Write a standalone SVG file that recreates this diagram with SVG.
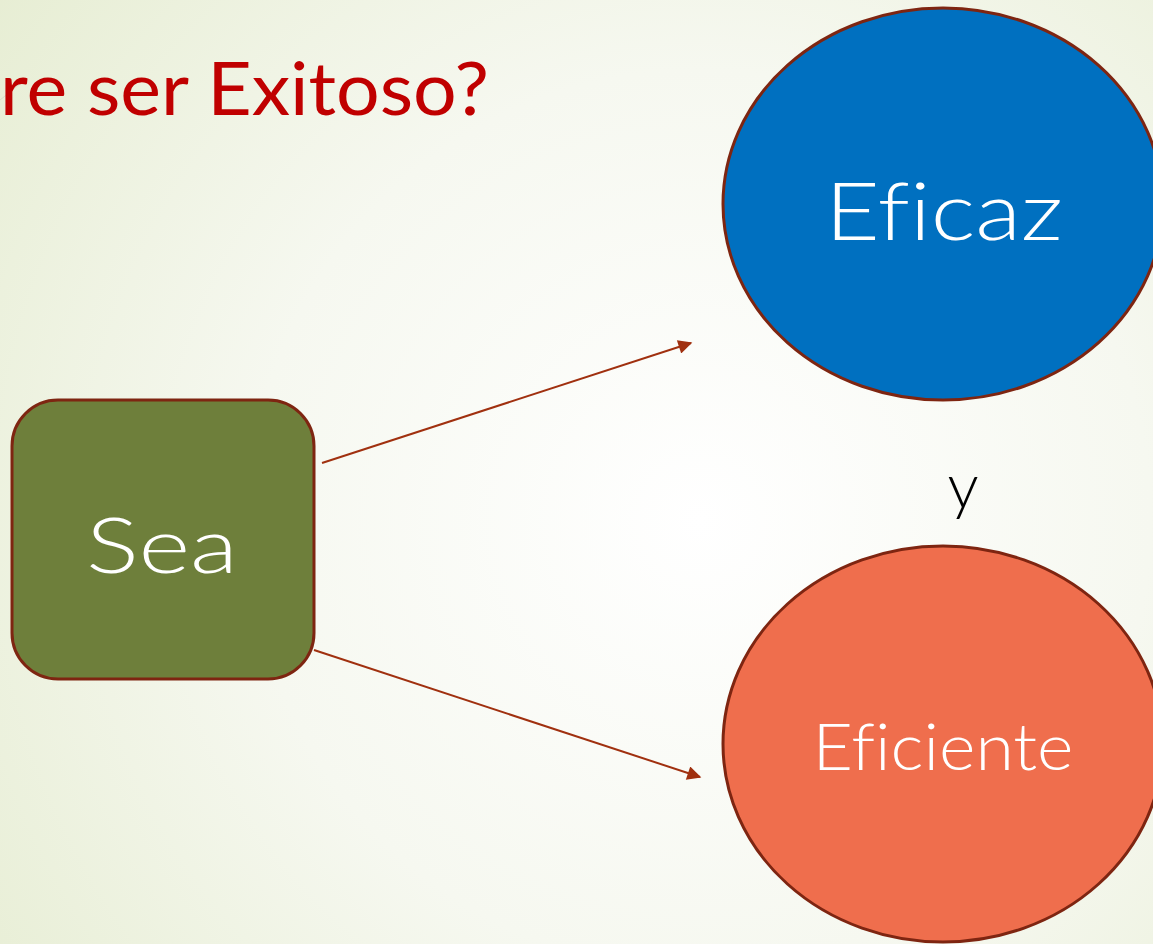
<svg xmlns="http://www.w3.org/2000/svg" width="1153" height="944" viewBox="0 0 1153 944">
  <defs>
    <radialGradient id="bg" cx="700" cy="520" r="900" gradientUnits="userSpaceOnUse">
      <stop offset="0" stop-color="#ffffff"/>
      <stop offset="0.5" stop-color="#f6f8f0"/>
      <stop offset="1" stop-color="#e6edd2"/>
    </radialGradient>
    <marker id="arr" viewBox="0 0 10 10" refX="9" refY="5" markerWidth="8" markerHeight="7" markerUnits="strokeWidth" orient="auto">
      <path d="M0,0 L10,5 L0,10 z" fill="#a0300f"/>
    </marker>
  </defs>
  <style>
    text { font-variant-ligatures: none; font-feature-settings: "liga" 0; }
    .lbl { font-family: "Lato", "Liberation Sans", sans-serif; font-weight: 300; fill: #ffffff; text-anchor: middle; }
    .shape { stroke: #7e2511; stroke-width: 3; }
    .conn { stroke: #a0300f; stroke-width: 2; fill: none; }
  </style>
  <rect width="1153" height="944" fill="url(#bg)"/>
  <line x1="0" y1="100" x2="25" y2="80" stroke="#d8dccb" stroke-width="1"/>
  <g id="title">
    <text x="489" y="115" font-family="Lato, 'Liberation Sans', sans-serif" font-weight="400" font-size="74" fill="#c00000" text-anchor="end" textLength="489" lengthAdjust="spacingAndGlyphs">re ser Exitoso?</text>
  </g>
  <g id="connectors">
    <line class="conn" x1="322" y1="463" x2="691" y2="343" marker-end="url(#arr)"/>
    <line class="conn" x1="314" y1="650" x2="700" y2="777" marker-end="url(#arr)"/>
  </g>
  <g id="node-sea">
    <rect class="shape" x="12" y="400" width="302" height="279" rx="46" ry="46" fill="#6e7f3b"/>
    <text class="lbl" x="162" y="573" font-size="76" textLength="152" lengthAdjust="spacingAndGlyphs">Sea</text>
  </g>
  <g id="node-eficaz">
    <ellipse class="shape" cx="943" cy="204" rx="220" ry="196" fill="#0070c0"/>
    <text class="lbl" x="944" y="240" font-size="80" textLength="238" lengthAdjust="spacingAndGlyphs">Eficaz</text>
  </g>
  <g id="label-y">
    <text x="963" y="508" font-family="Lato, 'Liberation Sans', sans-serif" font-weight="300" font-size="62" fill="#000000" text-anchor="middle">y</text>
  </g>
  <g id="node-eficiente">
    <ellipse class="shape" cx="943" cy="744" rx="220" ry="198" fill="#ef6e4d"/>
    <text class="lbl" x="943" y="770" font-size="66" textLength="261" lengthAdjust="spacingAndGlyphs">Eficiente</text>
  </g>
</svg>
